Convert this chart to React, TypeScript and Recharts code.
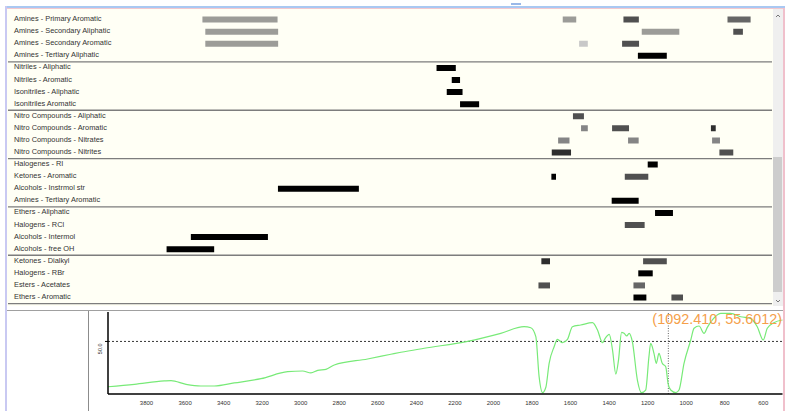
import { BarChart, Bar, Cell, XAxis, YAxis, CartesianGrid, LineChart, Line, ReferenceLine } from "recharts";

// functional groups, one row each (groups of four are separated by a line)
const groupLabels = [
  "Amines - Primary Aromatic",
  "Amines - Secondary Aliphatic",
  "Amines - Secondary Aromatic",
  "Amines - Tertiary Aliphatic",
  "Nitriles - Aliphatic",
  "Nitriles - Aromatic",
  "Isonitriles - Aliphatic",
  "Isonitriles Aromatic",
  "Nitro Compounds - Aliphatic",
  "Nitro Compounds - Aromatic",
  "Nitro Compounds - Nitrates",
  "Nitro Compounds - Nitrites",
  "Halogenes - RI",
  "Ketones - Aromatic",
  "Alcohols - Instrmol str",
  "Amines - Tertiary Aromatic",
  "Ethers - Aliphatic",
  "Halogens - RCl",
  "Alcohols - Intermol",
  "Alcohols - free OH",
  "Ketones - Dialkyl",
  "Halogens - RBr",
  "Esters - Acetates",
  "Ethers - Aromatic",
];

// absorption ranges per row, cm-1 [from, to]
const bandRanges: number[][][] = [
  [[3510, 3120], [1640, 1570], [1325, 1245], [785, 665]],
  [[3495, 3117], [1230, 1035], [755, 705]],
  [[3495, 3117], [1555, 1510], [1332, 1244]],
  [[1250, 1100]],
  [[2295, 2195]],
  [[2216, 2173]],
  [[2242, 2160]],
  [[2173, 2074]],
  [[1587, 1530]],
  [[1545, 1510], [1384, 1296], [871, 846]],
  [[1664, 1605], [1301, 1246], [865, 824]],
  [[1697, 1597], [827, 755]],
  [[1199, 1147]],
  [[1699, 1675], [1318, 1196]],
  [[3118, 2698]],
  [[1386, 1246]],
  [[1161, 1068]],
  [[1318, 1215]],
  [[3570, 3170]],
  [[3696, 3449]],
  [[1751, 1706], [1223, 1100]],
  [[1248, 1173]],
  [[1766, 1706], [1273, 1213]],
  [[1273, 1206], [1076, 1016]],
];

// band intensity per range
const bandStrength: string[][] = [
  ["w", "w", "ms", "m"],
  ["w", "w", "ms"],
  ["w", "vw", "ms"],
  ["vs"],
  ["vs"],
  ["vs"],
  ["vs"],
  ["vs"],
  ["ms"],
  ["mw", "ms", "s"],
  ["mw", "mw", "mw"],
  ["s", "ms"],
  ["vs"],
  ["vs", "ms"],
  ["vs"],
  ["vs"],
  ["vs"],
  ["ms"],
  ["vs"],
  ["vs"],
  ["s", "ms"],
  ["vs"],
  ["ms", "m"],
  ["vs", "ms"],
];

// IR spectrum
const wavenumbers = [
  4000, 3863, 3708, 3673, 3595, 3518, 3449, 3345, 3206, 3068, 2990, 2947, 2912, 2869, 2826, 2653,
  2532, 2480, 2359, 2134, 1962, 1841, 1806, 1780, 1763, 1745, 1728, 1711, 1685, 1668, 1642, 1616,
  1590, 1547, 1486, 1460, 1434, 1420, 1399, 1382, 1365, 1351, 1335, 1322, 1308, 1296, 1279, 1253,
  1232, 1210, 1193, 1184, 1167, 1155, 1141, 1124, 1106, 1094, 1080, 1054, 1037, 1011, 976, 959,
  933, 907, 890, 864, 821, 769, 717, 666, 631, 600, 579, 545, 500,
];
const transmittance = [
  6.9, 9.2, 12.4, 12.7, 9.2, 7.6, 7.6, 10.5, 14.6, 21.2, 21.9, 20.0, 22.5, 23.5, 27.6, 33.3,
  37.8, 39.7, 43.5, 50.1, 57.7, 64.0, 63.0, 54.5, 16.5, 1.3, 6.4, 29.2, 45.0, 52.0, 48.8, 52.0,
  64.0, 65.6, 67.8, 60.9, 48.8, 53.0, 56.8, 41.8, 19.0, 32.3, 58.7, 57.7, 55.2, 57.7, 49.7, 13.3,
  1.3, 3.8, 35.5, 48.2, 38.7, 29.2, 38.7, 29.2, 26.0, 10.2, 3.8, 1.3, 3.8, 29.2, 51.4, 62.5,
  64.7, 57.7, 63.4, 70.4, 76.7, 76.7, 73.5, 72.0, 64.0, 51.4, 62.5, 67.8, 70.4,
];

const xTicks = [3800, 3600, 3400, 3200, 3000, 2800, 2600, 2400, 2200, 2000, 1800, 1600, 1400, 1200, 1000, 800, 600];
const yTicks = [50];
const cursorWn = 1092.41;
const cursorT = 55.6012;

const STRENGTH_COLOR: Record<string, string> = {
  vs: "#000000",
  s: "#2e2e2e",
  ms: "#505050",
  m: "#666666",
  mw: "#858585",
  w: "#9c9c98",
  vw: "#c8c8c8",
};

const FONT = '"Liberation Sans", Arial, sans-serif';

const bandRows = groupLabels.map((name, i) => {
  const row: Record<string, any> = { name };
  bandRanges[i].forEach((r, k) => {
    row[`b${k}`] = r;
    row[`c${k}`] = STRENGTH_COLOR[bandStrength[i][k]];
  });
  return row;
});

const spectrum = wavenumbers.map((wn, i) => ({ wn, t: transmittance[i] }));

function RowLabel(props: any) {
  const { y, payload } = props;
  return (
    <text x={6} y={y} dy={1.5} fontSize={7.4} fill="#333" fontFamily={FONT} textAnchor="start">
      {payload.value}
    </text>
  );
}

function RotatedTick(props: any) {
  const { x, y, payload } = props;
  return (
    <text
      x={x - 1}
      y={y + 2}
      fontSize={5.5}
      fill="#333"
      fontFamily={FONT}
      textAnchor="end"
      transform={`rotate(-90, ${x - 1}, ${y + 2})`}
    >
      {payload.value.toFixed(1)}
    </text>
  );
}

const box = (left: number, top: number, width: number, height: number, background: string) => (
  <div style={{ position: "absolute", left, top, width, height, background }} />
);

export default function App() {
  return (
    <div style={{ position: "absolute", left: 0, top: 0, width: 785, height: 411, background: "#fff", overflow: "hidden", fontFamily: FONT }}>
      {box(511, 3, 10, 2, "#9ab8e8")}
      {box(5, 6, 780, 2, "#a9c8f2")}
      {box(7, 8, 778, 1, "#f3c8cf")}
      {box(5, 6, 2, 405, "#c9c9f2")}
      {box(783, 8, 2, 403, "#f0c0cc")}
      {box(7, 9, 766, 297, "#fffff5")}
      {box(773, 9, 10, 297, "#efefef")}
      {box(773, 157, 9, 135, "#cdcdcd")}
      {box(7, 310, 776, 1, "#a0a0a0")}
      {box(88, 311, 1, 100, "#8c8c8c")}
      <svg style={{ position: "absolute", left: 773, top: 9 }} width={10} height={297}>
        <polyline points="3,8 5,6 7,8" fill="none" stroke="#777" strokeWidth={1} />
        <polyline points="3,291 5,293 7,291" fill="none" stroke="#777" strokeWidth={1} />
      </svg>

      <div style={{ position: "absolute", left: 8, top: 9 }}>
        <BarChart
          width={764}
          height={296}
          data={bandRows}
          layout="vertical"
          barGap={-6}
          margin={{ top: 4.6, right: 0, bottom: 1.4, left: 0 }}
        >
          <CartesianGrid
            vertical={false}
            stroke="#7d7d7d"
            strokeWidth={1.3}
            horizontalCoordinatesGenerator={({ offset }: any) =>
              [1, 2, 3, 4, 5, 6].map((k) => offset.top + (k * offset.height) / 6)
            }
          />
          <XAxis type="number" domain={[554, 4519]} reversed hide allowDataOverflow />
          <YAxis
            type="category"
            dataKey="name"
            mirror
            width={100}
            axisLine={false}
            tickLine={false}
            interval={0}
            tick={<RowLabel />}
          />
          {[0, 1, 2, 3].map((k) => (
            <Bar key={k} dataKey={`b${k}`} barSize={6} isAnimationActive={false}>
              {bandRows.map((r, i) => (
                <Cell key={i} fill={r[`c${k}`] ?? "none"} />
              ))}
            </Bar>
          ))}
        </BarChart>
      </div>

      <div style={{ position: "absolute", left: 89, top: 311 }}>
        <LineChart width={695} height={100} data={spectrum} margin={{ top: 1, right: 1.5, bottom: 0, left: 7 }}>
          <XAxis
            dataKey="wn"
            type="number"
            domain={[500, 4000]}
            reversed
            ticks={xTicks}
            interval={0}
            tickLine={false}
            tickMargin={1}
            height={17}
            axisLine={{ stroke: "#000", strokeWidth: 1.5 }}
            tick={{ fontSize: 6, fill: "#333", fontFamily: FONT }}
          />
          <YAxis
            type="number"
            domain={[0, 78]}
            ticks={yTicks}
            width={12}
            tickSize={3}
            tickLine={{ stroke: "#000" }}
            axisLine={{ stroke: "#000", strokeWidth: 1.5 }}
            tick={<RotatedTick />}
          />
          <ReferenceLine y={50} stroke="#000" strokeWidth={0.8} strokeDasharray="2 2" />
          <ReferenceLine x={cursorWn} stroke="#666" strokeWidth={1} strokeDasharray="1 1.5" />
          <Line
            type="monotone"
            dataKey="t"
            stroke="#78ea78"
            strokeWidth={1.2}
            dot={false}
            isAnimationActive={false}
          />
        </LineChart>
      </div>
      <div
        style={{
          position: "absolute",
          left: 540,
          top: 311,
          width: 242,
          textAlign: "right",
          fontSize: 14.4,
          lineHeight: "16px",
          color: "#f5a04a",
        }}
      >
        ({cursorWn.toFixed(3)}, {cursorT.toFixed(4)})
      </div>
    </div>
  );
}
